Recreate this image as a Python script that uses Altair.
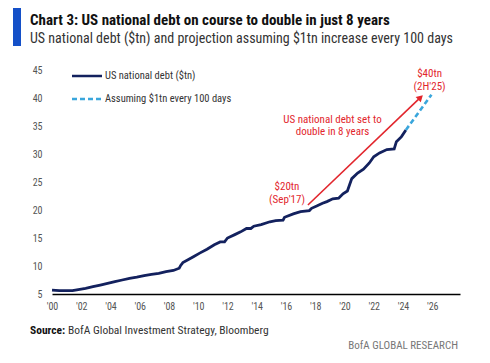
import altair as alt
import pandas as pd

# ---- data ----
years = [2000.0, 2000.5, 2001.0, 2001.4, 2001.8, 2002.3, 2002.8, 2003.3, 2003.8, 2004.3,
         2004.8, 2005.3, 2005.8, 2006.3, 2006.8, 2007.3, 2007.8, 2008.3, 2008.7, 2008.8,
         2008.95, 2009.3, 2009.7, 2010.1, 2010.6, 2011.1, 2011.5, 2011.8, 2012.0, 2012.5,
         2012.9, 2013.3, 2013.6, 2013.8, 2014.3, 2014.9, 2015.3, 2015.8, 2015.9, 2016.5,
         2017.0, 2017.6, 2017.75, 2018.1, 2018.5, 2018.8, 2019.2, 2019.6, 2019.9, 2020.2,
         2020.35, 2020.5, 2020.9, 2021.3, 2021.7, 2022.0, 2022.4, 2022.9, 2023.4, 2023.55,
         2023.9, 2024.2]
debt = [5.7, 5.6, 5.6, 5.6, 5.8, 6.0, 6.3, 6.6, 6.9, 7.2,
        7.5, 7.8, 8.0, 8.3, 8.5, 8.7, 9.0, 9.2, 9.6, 10.1,
        10.6, 11.1, 11.7, 12.3, 13.0, 13.8, 14.3, 14.3, 15.0, 15.6,
        16.1, 16.7, 16.7, 17.1, 17.4, 17.9, 18.1, 18.2, 18.7, 19.3,
        19.7, 19.9, 20.3, 20.7, 21.2, 21.5, 22.0, 22.1, 22.9, 23.4,
        24.5, 25.6, 26.6, 27.3, 28.4, 29.5, 30.2, 30.8, 30.9, 32.2,
        33.1, 34.3]
proj_years = [2024.2, 2025.95]
proj_debt = [34.3, 40.6]
arrow_years = [2017.5, 2025.2]
arrow_vals = [20.9, 40.1]
head_year = [2025.2]
head_val = [40.1]
ann_labels = ["$40tn", "(2H'25)", "US national debt set to", "double in 8 years", "$20tn", "(Sep'17)"]
ann_years = [2025.82, 2025.82, 2019.18, 2019.18, 2016.07, 2016.07]
ann_vals = [44.2, 41.96, 36.07, 33.84, 24.02, 21.79]
x_ticks = list(range(2000, 2027, 2))
y_ticks = [5, 10, 15, 20, 25, 30, 35, 40, 45]

title = "Chart 3: US national debt on course to double in just 8 years"
subtitle = "US national debt ($tn) and projection assuming $1tn increase every 100 days"
legend_labels = ["US national debt ($tn)", "Assuming $1tn every 100 days"]
source_bold = "Source:"
source_rest = "BofA Global Investment Strategy, Bloomberg"
brand = "BofA GLOBAL RESEARCH"

FONT = "Liberation Sans Narrow, Arial Narrow, Roboto Condensed, Liberation Sans, sans-serif"
NAVY = "#13215e"
LBLUE = "#3aa6dc"
RED = "#e2262d"
GRAY = "#555555"

debt_df = pd.DataFrame({"year": years, "value": debt})
proj_df = pd.DataFrame({"year": proj_years, "value": proj_debt})
arrow_df = pd.DataFrame({"year": arrow_years, "value": arrow_vals})
head_df = pd.DataFrame({"year": head_year, "value": head_val})
ann_df = pd.DataFrame({"year": ann_years, "value": ann_vals, "label": ann_labels})

X = alt.X("year:Q", scale=alt.Scale(domain=[2000, 2027.9], nice=False, zero=False),
          axis=alt.Axis(values=x_ticks, title=None, grid=False, ticks=False,
                        labelExpr="\"'\" + substring(toString(datum.value), 2, 4)",
                        domainColor="#000000", domainWidth=1.5, labelPadding=7,
                        labelFlush=False, labelColor=GRAY, labelFontSize=10, labelFont=FONT))
Y = alt.Y("value:Q", scale=alt.Scale(domain=[5, 45], nice=False, zero=False),
          axis=alt.Axis(values=y_ticks, title=None, grid=False, ticks=False, domain=False,
                        labelPadding=10, labelColor=GRAY, labelFontSize=10, labelFont=FONT))

line = alt.Chart(debt_df).mark_line(color=NAVY, strokeWidth=2.8).encode(x=X, y=Y)
proj = alt.Chart(proj_df).mark_line(color=LBLUE, strokeWidth=2.6, strokeDash=[5, 3]).encode(x=X, y=Y)
arrow = alt.Chart(arrow_df).mark_line(color=RED, strokeWidth=1.6).encode(x=X, y=Y)
head = alt.Chart(head_df).mark_point(shape="triangle-up", filled=True, color=RED, size=55,
                                     angle=46, opacity=1).encode(x=X, y=Y)
ann = alt.Chart(ann_df).mark_text(color=RED, font=FONT, fontSize=11, align="center",
                                  baseline="middle").encode(x=X, y=Y, text="label:N")


def txt(s, x, y, **kw):
    return alt.Chart(pd.DataFrame({"t": [s]})).mark_text(font=FONT, **kw).encode(
        x=alt.value(x), y=alt.value(y), text="t:N")


bar = alt.Chart(pd.DataFrame({"a": [0]})).mark_rect(color="#1450c8").encode(
    x=alt.value(-39), x2=alt.value(-31), y=alt.value(-63), y2=alt.value(-24))

t1 = txt(title, -22, -45, fontSize=15, fontWeight="bold", color="#111111", align="left", baseline="alphabetic")
t2 = txt(subtitle, -22, -27, fontSize=14, color="#333333", align="left", baseline="alphabetic")

leg1 = alt.Chart(pd.DataFrame({"a": [0]})).mark_rule(color=NAVY, strokeWidth=2.5).encode(
    x=alt.value(20), x2=alt.value(50), y=alt.value(6))
leg2 = alt.Chart(pd.DataFrame({"a": [0]})).mark_rule(color=LBLUE, strokeWidth=2.5, strokeDash=[5, 3]).encode(
    x=alt.value(20), x2=alt.value(50), y=alt.value(29))
lt1 = txt(legend_labels[0], 53, 6, fontSize=10.5, color="#333333", align="left", baseline="middle")
lt2 = txt(legend_labels[1], 53, 29, fontSize=10.5, color="#333333", align="left", baseline="middle")

s1 = txt(source_bold, -22, 264, fontSize=11.5, fontWeight="bold", color="#111111", align="left", baseline="alphabetic")
s2 = txt(source_rest, 16, 264, fontSize=11.5, color="#333333", align="left", baseline="alphabetic")
s3 = txt(brand, 406, 279, fontSize=11, color="#777777", align="right", baseline="alphabetic")

chart = alt.layer(line, proj, arrow, head, ann, bar, t1, t2, leg1, leg2, lt1, lt2, s1, s2, s3).properties(
    width=408, height=224,
    autosize=alt.AutoSizeParams(type="none"),
    padding={"left": 44, "top": 62, "right": 22, "bottom": 61},
    background="white",
).configure_view(stroke=None)

chart.save("out.html", embed_options={"renderer": "svg", "actions": False})
